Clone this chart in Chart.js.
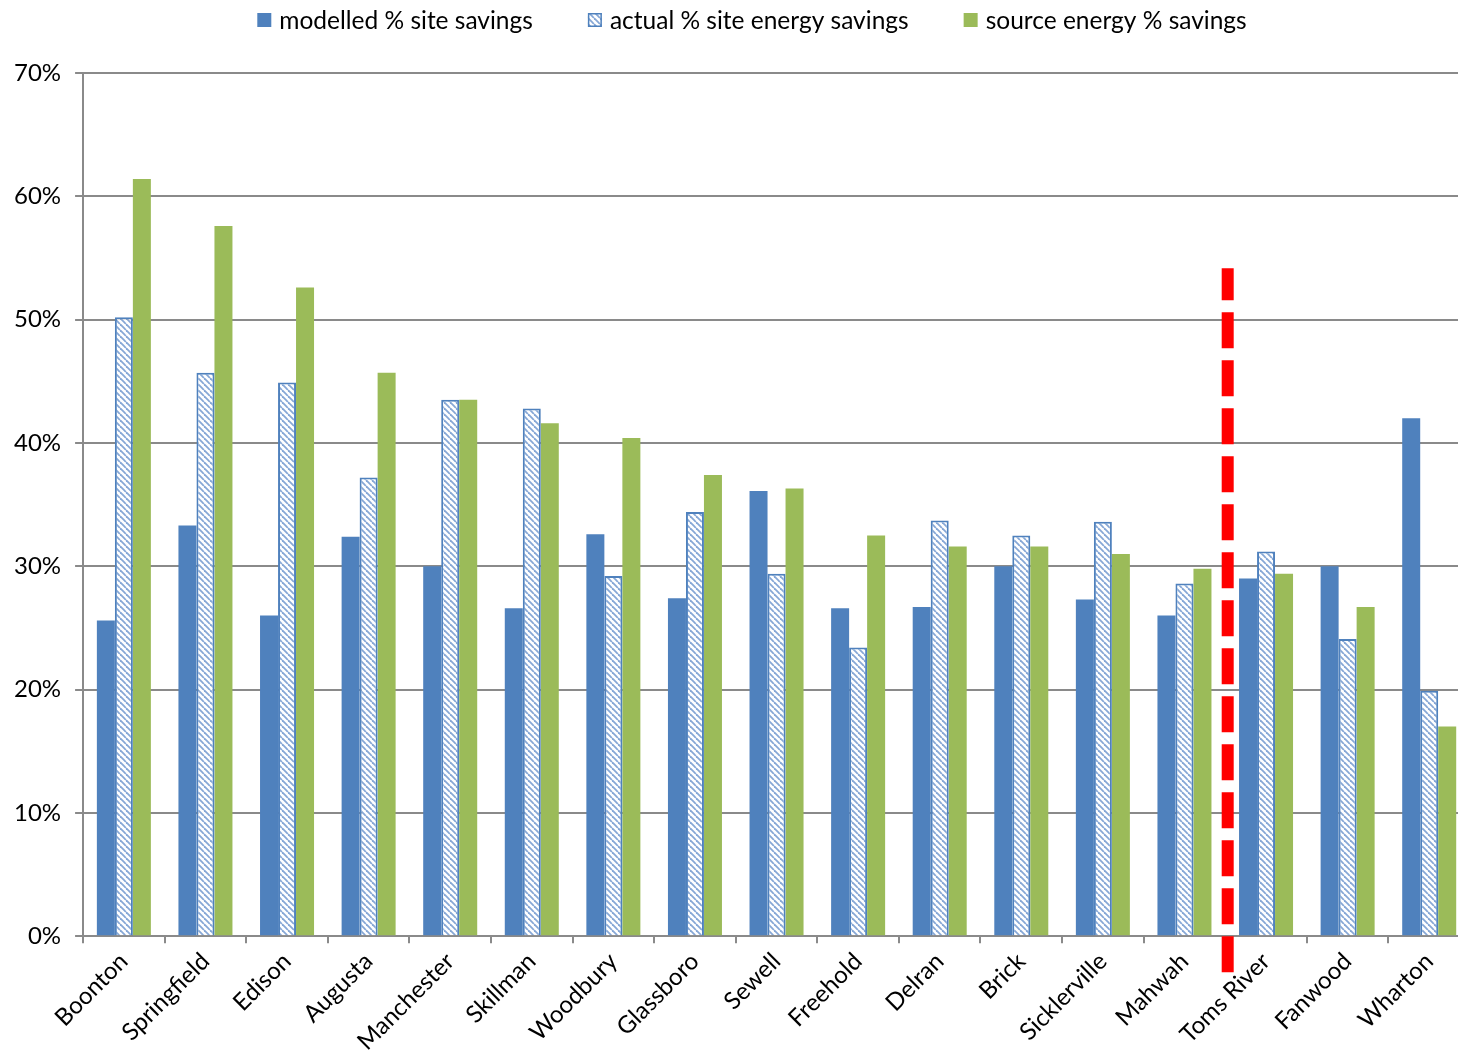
<!DOCTYPE html>
<html>
<head>
<meta charset="utf-8">
<script src="https://cdn.jsdelivr.net/npm/chart.js@4/dist/chart.umd.min.js"></script>
<style>
  html, body { margin: 0; padding: 0; background: #fff; overflow: hidden; }
  /* the original is cropped on the right, so the canvas runs a little past the window */
  #wrap { width: 1470px; height: 1060px; }
</style>
</head>
<body>
<div id="wrap"><canvas id="savingsChart"></canvas></div>
<script>
// sites, sorted the way the original chart has them
var sites = ["Boonton", "Springfield", "Edison", "Augusta", "Manchester", "Skillman", "Woodbury",
             "Glassboro", "Sewell", "Freehold", "Delran", "Brick", "Sicklerville", "Mahwah",
             "Toms River", "Fanwood", "Wharton"];

var modelledSite = [25.6, 33.3, 26.0, 32.4, 30.0, 26.6, 32.6, 27.4, 36.1, 26.6, 26.7, 30.0, 27.3, 26.0, 29.0, 30.0, 42.0];
var actualSite   = [50.2, 45.7, 44.9, 37.2, 43.5, 42.8, 29.2, 34.4, 29.4, 23.4, 33.7, 32.5, 33.6, 28.6, 31.2, 24.1, 19.9];
var sourceEnergy = [61.4, 57.6, 52.6, 45.7, 43.5, 41.6, 40.4, 37.4, 36.3, 32.5, 31.6, 31.6, 31.0, 29.8, 29.4, 26.7, 17.0];

var seriesNames = ["modelled % site savings", "actual % site energy savings", "source energy % savings"];
var yTicks = [0, 10, 20, 30, 40, 50, 60, 70];

// red dashed divider, in data units (category index / percent)
var dividerAt = 13.53;
var dividerTop = 54.17;
var dividerBottom = -3;

var blue = "#4f81bd";
var green = "#9bbb59";
var gridGray = "#8a8a8a";
var fontFamily = "Lato, 'Open Sans', sans-serif";

// hatch fill for the "actual" bars
function makeHatch() {
  var s = 6;
  var c = document.createElement("canvas");
  c.width = s; c.height = s;
  var g = c.getContext("2d");
  g.fillStyle = "#fff";
  g.fillRect(0, 0, s, s);
  g.strokeStyle = "#86a7d6";
  g.lineWidth = 1.8;
  for (var k = -s; k <= s; k += s) {
    g.beginPath();
    g.moveTo(k, 0);
    g.lineTo(k + s, s);
    g.stroke();
  }
  return g.createPattern(c, "repeat");
}
var hatch = makeHatch();

var dividerPlugin = {
  id: "divider",
  afterDatasetsDraw: function(chart) {
    var x = chart.scales.x, y = chart.scales.y, ctx = chart.ctx;
    var px = x.getPixelForValue(dividerAt);
    ctx.save();
    ctx.strokeStyle = "#ff0000";
    ctx.lineWidth = 12;
    ctx.setLineDash([36, 12]);
    ctx.lineDashOffset = 4;
    ctx.beginPath();
    ctx.moveTo(px, y.getPixelForValue(dividerTop));
    ctx.lineTo(px, y.getPixelForValue(dividerBottom));
    ctx.stroke();
    ctx.restore();
  }
};

// legend drawn by hand so the item spacing can be wide like the original
var topLegend = {
  id: "topLegend",
  afterDraw: function(chart) {
    var ctx = chart.ctx;
    var box = 14, gapText = 8, gapItem = 55, midY = 20;
    ctx.save();
    ctx.font = "24.5px " + fontFamily;
    ctx.textBaseline = "middle";
    var sets = chart.data.datasets;
    var total = 0;
    sets.forEach(function(ds, i) {
      total += box + gapText + ctx.measureText(ds.label).width;
      if (i < sets.length - 1) total += gapItem;
    });
    var x = 752 - total / 2;
    sets.forEach(function(ds) {
      ctx.fillStyle = ds.backgroundColor;
      ctx.fillRect(x, midY - box / 2, box, box);
      if (ds.borderWidth) {
        ctx.strokeStyle = ds.borderColor;
        ctx.lineWidth = 1.5;
        ctx.strokeRect(x + 0.75, midY - box / 2 + 0.75, box - 1.5, box - 1.5);
      }
      x += box + gapText;
      ctx.fillStyle = "#000";
      ctx.fillText(ds.label, x, midY + 1);
      x += ctx.measureText(ds.label).width + gapItem;
    });
    ctx.restore();
  }
};

Chart.defaults.font.family = fontFamily;
Chart.defaults.font.size = 24;
Chart.defaults.color = "#000";

var ctx = document.getElementById("savingsChart");
var savingsChart = new Chart(ctx, {
  type: "bar",
  data: {
    labels: sites,
    datasets: [
      {
        label: seriesNames[0],
        data: modelledSite,
        backgroundColor: blue,
        borderWidth: 0
      },
      {
        label: seriesNames[1],
        data: actualSite,
        backgroundColor: hatch,
        borderColor: blue,
        borderWidth: 2
      },
      {
        label: seriesNames[2],
        data: sourceEnergy,
        backgroundColor: green,
        borderWidth: 0
      }
    ]
  },
  options: {
    responsive: true,
    maintainAspectRatio: false,
    animation: false,
    categoryPercentage: 0.662,
    barPercentage: 1.0,
    layout: { padding: { left: 0, right: 0, top: 73, bottom: 0 } },
    plugins: {
      legend: { display: false },
      tooltip: { enabled: false }
    },
    scales: {
      x: {
        grid: {
          drawOnChartArea: false,
          drawTicks: true,
          tickLength: 7,
          color: gridGray,
          lineWidth: 2
        },
        border: { color: gridGray, width: 2 },
        ticks: {
          maxRotation: 45,
          minRotation: 45,
          autoSkip: false,
          padding: 4
        }
      },
      y: {
        min: 0,
        max: 70,
        afterBuildTicks: function(axis) {
          axis.ticks = yTicks.map(function(v) { return { value: v }; });
        },
        grid: {
          color: gridGray,
          lineWidth: 2,
          tickLength: 8
        },
        border: { color: gridGray, width: 2 },
        ticks: {
          padding: 14,
          callback: function(v) { return v + "%"; }
        }
      }
    }
  },
  plugins: [dividerPlugin, topLegend]
});
</script>
</body>
</html>
